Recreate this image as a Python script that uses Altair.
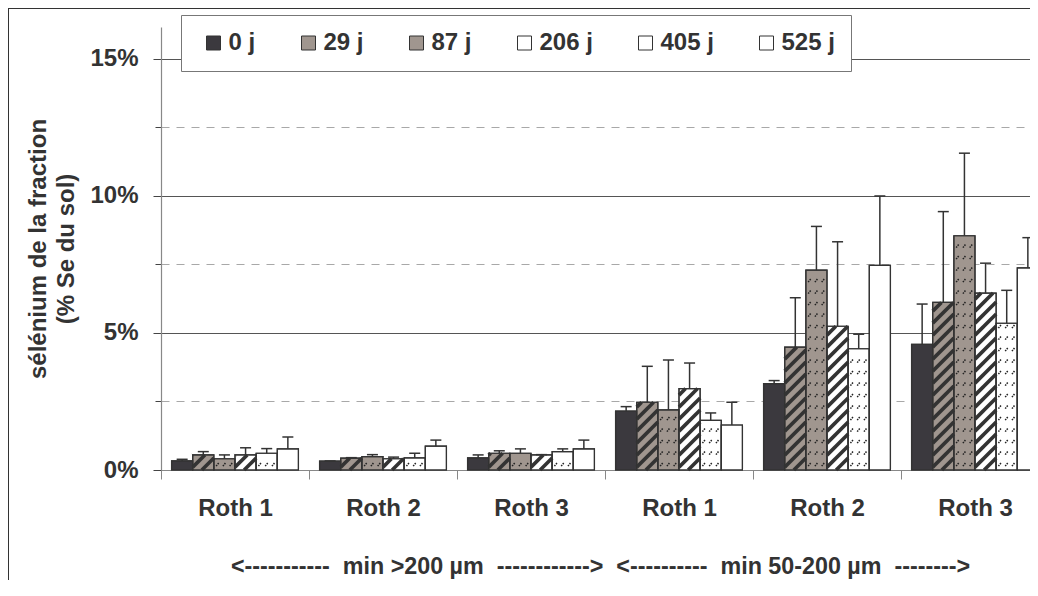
import json
import altair as alt
import pandas as pd

# ---------------- data ----------------
groups = ["Roth 1", "Roth 2", "Roth 3", "Roth 1", "Roth 2", "Roth 3"]
series = ["0 j", "29 j", "87 j", "206 j", "405 j", "525 j"]

mean_0 = [0.33, 0.32, 0.44, 2.15, 3.15, 4.58]
mean_29 = [0.55, 0.43, 0.61, 2.47, 4.48, 6.11]
mean_87 = [0.41, 0.49, 0.61, 2.19, 7.29, 8.54]
mean_206 = [0.55, 0.41, 0.55, 2.97, 5.24, 6.45]
mean_405 = [0.61, 0.44, 0.67, 1.81, 4.42, 5.35]
mean_525 = [0.77, 0.87, 0.77, 1.64, 7.46, 7.37]

err_0 = [0.06, 0.01, 0.11, 0.16, 0.11, 1.47]
err_29 = [0.12, 0.02, 0.09, 1.31, 1.80, 3.31]
err_87 = [0.14, 0.07, 0.16, 1.82, 1.59, 3.01]
err_206 = [0.26, 0.06, 0.01, 0.93, 3.08, 1.09]
err_405 = [0.17, 0.17, 0.10, 0.27, 0.53, 1.20]
err_525 = [0.43, 0.22, 0.32, 0.83, 2.53, 1.10]

y_ticks = [0, 2.5, 5, 7.5, 10, 12.5, 15]
x_title = ("<-----------\u00a0\u00a0min >200 µm\u00a0\u00a0------------>\u00a0\u00a0"
           "<----------\u00a0\u00a0min 50-200 µm\u00a0\u00a0-------->")
y_title = ["sélénium de la fraction", "(% Se du sol)"]

means = [mean_0, mean_29, mean_87, mean_206, mean_405, mean_525]
errs = [err_0, err_29, err_87, err_206, err_405, err_525]

rows = []
for si, s in enumerate(series):
    for gi in range(len(groups)):
        rows.append({"series": s, "si": si, "gi": gi,
                     "mean": means[si][gi], "err": errs[si][gi]})
df = pd.DataFrame(rows)

# ---------------- style / layout ----------------
FONT = "Liberation Sans"
FS = 24
TXT = "#333333"
DARK = "#333333"
fills = ["#3b393e", "#a0968f", "#a0968f", "#ffffff", "#ffffff", "#ffffff"]

W, H = 869, 443
PXX = 148.0                      # px per group
XMAX = -0.5 + W / PXX
YMAX = 16.15
PXY = H / YMAX                   # px per percent

BW = PXX / 7.0                   # bar width px
RISE = BW / PXY                  # 45 deg stripes
PER = 12.0 / PXY                 # stripe vertical period
DOTQ = 11.5                      # dot row spacing px
DX = 1.5 / PXX
DY = 1.9 / PXY

xs = alt.Scale(domain=[-0.5, XMAX], nice=False, zero=False)
ys = alt.Scale(domain=[0, YMAX], nice=False, zero=True)

x_values = [v / 2 for v in range(-1, 11)]
x_axis = alt.Axis(
    values=x_values,
    labelExpr="datum.value % 1 === 0 ? " + json.dumps(groups) + "[datum.value] : ''",
    tickOpacity={"condition": {"test": "datum.value % 1 !== 0", "value": 1}, "value": 0},
    tickSize=9, tickColor="#888888", domainColor="#888888", domainWidth=1.2,
    labelFontSize=FS, labelFontWeight="bold", labelColor=TXT, labelFont=FONT,
    labelPadding=17, labelFlush=False, labelOverlap=False,
    grid=False,
    title=x_title, titleFontSize=23.3, titleFontWeight="bold", titleColor=TXT,
    titleFont=FONT, titlePadding=35, titleX=439, titleAlign="center",
)
y_axis = alt.Axis(
    values=y_ticks,
    labelExpr="datum.value % 5 === 0 ? datum.value + '%' : ''",
    tickSize={"condition": {"test": "datum.value % 5 === 0", "value": 8}, "value": 6},
    tickColor="#444444", domainColor="#888888", domainWidth=1.2,
    labelFontSize=FS, labelFontWeight="bold", labelColor=TXT, labelFont=FONT,
    labelPadding=15,
    grid=True,
    gridColor={"condition": {"test": "datum.value % 5 === 0", "value": "#555555"}, "value": "#a8a8a8"},
    gridDash={"condition": {"test": "datum.value % 5 === 0", "value": []}, "value": [8, 7]},
    gridOpacity={"condition": {"test": "datum.value === 0", "value": 0}, "value": 1},
    gridWidth=1.1,
    title=y_title, titleFontSize=FS, titleFontWeight="bold", titleColor=TXT,
    titleFont=FONT, titlePadding=11, titleLineHeight=28,
)

base = alt.Chart(df).transform_calculate(
    xl="datum.gi + (datum.si - 3) / 7",
    xr="datum.gi + (datum.si - 2) / 7",
    xc="datum.gi + (datum.si - 2.5) / 7",
    top="datum.mean + datum.err",
)

legend = alt.Legend(
    orient="none", legendX=20, legendY=-12, direction="horizontal", title=None,
    labelFontSize=FS, labelFontWeight="bold", labelColor=TXT, labelFont=FONT,
    symbolType="square", symbolSize=196, symbolStrokeColor=DARK, symbolStrokeWidth=1,
    symbolOffset=4.5, labelOffset=3, columnPadding=36, padding=16,
    fillColor="white", strokeColor="#777777",
)


def X(field):
    return alt.X(field, scale=xs, axis=x_axis)


def Y(field):
    return alt.Y(field, scale=ys, axis=y_axis)


bars = base.mark_rect(stroke=DARK, strokeWidth=1.2).encode(
    x=X("xl:Q"),
    x2="xr:Q",
    y=Y("mean:Q"),
    y2=alt.datum(0),
    fill=alt.Fill("series:N", scale=alt.Scale(domain=series, range=fills), legend=legend),
)

stripes = base.transform_filter("datum.si == 1 || datum.si == 3").transform_calculate(
    ks=f"sequence(0, ceil((datum.mean + {RISE}) / {PER}) + 1)"
).transform_flatten(["ks"], as_=["k"]).transform_calculate(
    y0=f"datum.k * {PER} - {RISE}"
).transform_calculate(
    t0=f"max(0, -datum.y0 / {RISE})",
    t1=f"min(1, (datum.mean - datum.y0) / {RISE})",
).transform_filter("datum.t1 > datum.t0").transform_calculate(
    sx="datum.xl + datum.t0 / 7",
    sy=f"datum.y0 + datum.t0 * {RISE}",
    ex="datum.xl + datum.t1 / 7",
    ey=f"datum.y0 + datum.t1 * {RISE}",
).mark_rule(color=DARK, strokeWidth=3.6).encode(
    x=X("sx:Q"), x2="ex:Q",
    y=Y("sy:Q"), y2="ey:Q",
)

dots = base.transform_filter("datum.si == 2 || datum.si == 4").transform_calculate(
    rs=f"sequence(0, floor(datum.mean * {PXY} / {DOTQ}) + 1)"
).transform_flatten(["rs"], as_=["r"]).transform_calculate(
    cs="[0, 1, 2]"
).transform_flatten(["cs"], as_=["c"]).transform_calculate(
    yc=f"(datum.r + 0.5) * {DOTQ / PXY}",
    xm="datum.xl + (0.18 + 0.32 * datum.c) / 7",
).transform_filter(f"datum.yc + {DY * 1.3} <= datum.mean").transform_calculate(
    ax=f"datum.xm - {DX}", ay=f"datum.yc - {DY}",
    bx=f"datum.xm + {DX}", by=f"datum.yc + {DY}",
).mark_rule(color="#222222", strokeWidth=1.5, strokeDash=[1.5, 1]).encode(
    x=X("ax:Q"), x2="bx:Q",
    y=Y("ay:Q"), y2="by:Q",
)

outline = base.mark_rect(fill="white", fillOpacity=0, stroke=DARK, strokeWidth=1.2).encode(
    x=X("xl:Q"), x2="xr:Q",
    y=Y("mean:Q"), y2=alt.datum(0),
)

err_rule = base.mark_rule(color=DARK, strokeWidth=1.5).encode(
    x=X("xc:Q"),
    y=Y("mean:Q"), y2="top:Q",
)
caps = base.mark_tick(orient="horizontal", size=11, thickness=1.5, color=DARK, opacity=1).encode(
    x=X("xc:Q"),
    y=Y("top:Q"),
)

frame_df = pd.DataFrame({"frame": [1]})
frame_left = alt.Chart(frame_df).mark_rule(color=DARK, strokeWidth=1).encode(
    x=alt.value(-152.5), y=alt.value(-19), y2=alt.value(H + 300),
)
frame_top = alt.Chart(frame_df).mark_rule(color=DARK, strokeWidth=1).encode(
    x=alt.value(-153), x2=alt.value(W + 300), y=alt.value(-18.5),
)

chart = alt.layer(bars, stripes, dots, outline, err_rule, caps, frame_left, frame_top).properties(
    width=W, height=H,
    autosize=alt.AutoSizeParams(type="none"),
    padding={"left": 153, "top": 19, "right": 0, "bottom": 110},
).configure(font=FONT).configure_view(stroke=None)

chart.save("out.html", embed_options={"renderer": "svg", "actions": False})
